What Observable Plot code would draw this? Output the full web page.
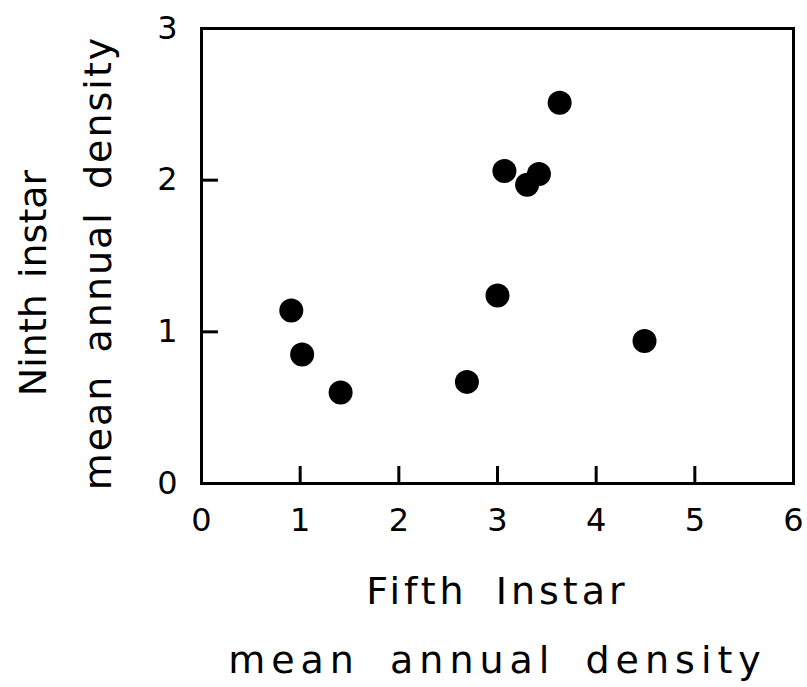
<!DOCTYPE html>
<html><head><meta charset="utf-8">
<script src="https://cdn.jsdelivr.net/npm/d3@7"></script>
<script src="https://cdn.jsdelivr.net/npm/@observablehq/plot@0.6"></script>
<style>
html,body{margin:0;padding:0;background:#fff;}
</style></head><body><div id="chart"></div>
<script>
const fifthInstar = [0.91, 1.02, 1.41, 2.69, 3.00, 3.07, 3.30, 3.42, 3.63, 4.49];
const ninthInstar = [1.14, 0.85, 0.60, 0.67, 1.24, 2.06, 1.97, 2.04, 2.51, 0.94];
const xTickLabels = [0, 1, 2, 3, 4, 5, 6];
const yTickLabels = [0, 1, 2, 3];
const xInnerTicks = [1, 2, 3, 4, 5];
const yInnerTicks = [1, 2];
const xTitle = ["Fifth Instar", "mean annual density"];
const yTitle = ["Ninth instar", "mean annual density"];

const points = fifthInstar.map((x, i) => ({x, y: ninthInstar[i]}));

const plot = Plot.plot({
  width: 807, height: 687,
  marginLeft: 201, marginRight: 14, marginTop: 28, marginBottom: 204,
  x: {domain: [0, 6]},
  y: {domain: [0, 3]},
  style: {fontFamily: "DejaVu Sans", background: "#fff", color: "#000"},
  marks: [
    Plot.frame({strokeWidth: 3}),
    Plot.axisX(xInnerTicks, {tickSize: 17, dy: -17, strokeWidth: 3, tickFormat: () => "", label: null}),
    Plot.axisY(yInnerTicks, {tickSize: 17, dx: 17, strokeWidth: 3, tickFormat: () => "", label: null}),
    Plot.axisX(xTickLabels, {tickSize: 0, tickPadding: 25, fontSize: 32, tickFormat: d => String(d), label: null}),
    Plot.axisY(yTickLabels, {tickSize: 0, tickPadding: 24, fontSize: 32, tickFormat: d => String(d), label: null}),
    Plot.dot(points, {x: "x", y: "y", r: 12, fill: "#000", stroke: null}),
    Plot.text([xTitle[0]], {text: d => d, frameAnchor: "bottom", textAnchor: "middle", lineAnchor: "middle", dy: 108, fontSize: 38}),
    Plot.text([xTitle[1]], {text: d => d, frameAnchor: "bottom", textAnchor: "middle", lineAnchor: "middle", dy: 177, fontSize: 38}),
    Plot.text([yTitle[0]], {text: d => d, frameAnchor: "left", textAnchor: "middle", lineAnchor: "middle", rotate: -90, dx: -168, dy: 27, fontSize: 38}),
    Plot.text([yTitle[1]], {text: d => d, frameAnchor: "left", textAnchor: "middle", lineAnchor: "middle", rotate: -90, dx: -103, dy: 7, fontSize: 38})
  ]
});
// letter / word spacing for the four axis-title text marks, in mark order
const spacing = [[4, 12], [6, 12], [0, 4], [2, 8]];
plot.querySelectorAll('g[aria-label="text"]').forEach((g, i) => {
  const s = spacing[i];
  if (s) { g.style.letterSpacing = s[0] + "px"; g.style.wordSpacing = s[1] + "px"; }
});
document.getElementById("chart").append(plot);
</script></body></html>
